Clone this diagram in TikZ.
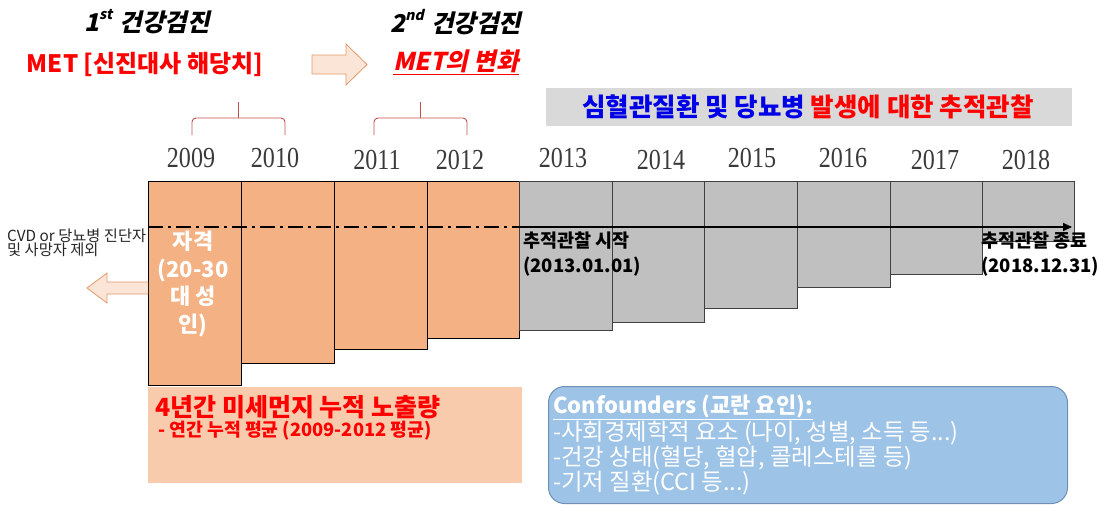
\documentclass[tikz,border=0pt]{standalone}
\usepackage{fontspec}
\setmainfont{Noto Sans CJK KR}
\newfontfamily\krsl{Noto Sans CJK KR}[FakeSlant=0.22, BoldFeatures={FakeSlant=0.22}]
\newfontfamily\yr{Liberation Serif}[FakeStretch=0.83]
\usetikzlibrary{arrows.meta}
\definecolor{boxor}{HTML}{F4B183}
\definecolor{boxgr}{HTML}{C0C0C0}
\definecolor{gline}{HTML}{404040}
\definecolor{peach}{HTML}{F9CBAD}
\definecolor{redt}{HTML}{FF0000}
\definecolor{bluet}{HTML}{0000E6}
\definecolor{bannergr}{HTML}{D9D9D9}
\definecolor{confb}{HTML}{9DC3E6}
\definecolor{confl}{HTML}{6F8FB5}
\definecolor{bracec}{HTML}{C0504D}
\definecolor{arrfill}{HTML}{FBE5D6}
\definecolor{arrline}{HTML}{E39A6A}
\definecolor{yeartext}{HTML}{3A3A3A}
\newcommand{\supr}[1]{\raisebox{0.5em}{\fontsize{14}{14}\selectfont #1}}
\tikzset{
  obox/.style={draw=black, line width=0.8pt, fill=boxor, anchor=north west, inner sep=0pt},
  gbox/.style={draw=gline, line width=0.8pt, fill=boxgr, anchor=north west, inner sep=0pt},
  yearlab/.style={font=\yr\fontsize{29}{29}\selectfont, text=yeartext, inner sep=0pt},
  ttl/.style={font=\krsl\fontsize{24.5}{26}\selectfont\bfseries, inner sep=0pt},
  redlab/.style={font=\fontsize{24}{26}\selectfont\bfseries, text=redt, inner sep=0pt},
  bracestyle/.style={draw=bracec, line width=0.9pt, rounded corners=4pt},
  fatarrow/.style={draw=arrline, fill=arrfill, line width=0.8pt, line join=miter},
  marklab/.style={font=\fontsize{18.5}{24.5}\selectfont\bfseries, text=black, inner sep=0pt, anchor=west, align=left},
}
\begin{document}
\begin{tikzpicture}[x=1pt,y=-1pt]
\useasboundingbox (0,0) rectangle (1101,504);
% titles
\node[ttl] (t1) at (147,22) {1\supr{st}\hspace{0.3em}건강검진};
\node[redlab] (met1) at (145,64) {MET [신진대사 해당치]};
\node[ttl] (t2) at (456,22) {2\supr{nd}\hspace{0.3em}건강검진};
\node[redlab, font=\krsl\fontsize{24.5}{26}\selectfont\bfseries] (met2) at (456,62) {\underline{MET의 변화}};
% top arrow
\draw[fatarrow] (312,55) -- (346,55) -- (346,44) -- (367,64.5) -- (346,85) -- (346,74) -- (312,74) -- cycle;
% braces
\draw[bracestyle] (192,135) -- (192,118) -- (285,118) -- (285,135);
\draw[draw=bracec, line width=0.9pt] (238.5,118) -- (238.5,102);
\draw[bracestyle] (374,135) -- (374,118) -- (467,118) -- (467,135);
\draw[draw=bracec, line width=0.9pt] (420.5,118) -- (420.5,102);
% banner
\node[fill=bannergr, anchor=north west, inner sep=0pt, minimum width=526pt, minimum height=38pt] (banner) at (546,88) {};
\node[font=\fontsize{25.5}{28}\selectfont\bfseries, inner sep=0pt] (bantext) at (808,107) {\textcolor{bluet}{심혈관질환 및 당뇨병} \textcolor{redt}{발생에 대한 추적관찰}};
% years
\node[yearlab] (y2009) at (191,158) {2009};
\node[yearlab] (y2010) at (275,158) {2010};
\node[yearlab] (y2011) at (377,160) {2011};
\node[yearlab] (y2012) at (460,160) {2012};
\node[yearlab] (y2013) at (563,158) {2013};
\node[yearlab] (y2014) at (661,160) {2014};
\node[yearlab] (y2015) at (752,158) {2015};
\node[yearlab] (y2016) at (843,158) {2016};
\node[yearlab] (y2017) at (935,160) {2017};
\node[yearlab] (y2018) at (1026,160) {2018};
% orange boxes
\node[obox, minimum width=93pt, minimum height=204pt] (b2009) at (148,181) {};
\node[obox, minimum width=93pt, minimum height=182pt] (b2010) at (241,181) {};
\node[obox, minimum width=93pt, minimum height=168pt] (b2011) at (334,181) {};
\node[obox, minimum width=92pt, minimum height=157pt] (b2012) at (427,181) {};
% gray boxes
\node[gbox, minimum width=92.5pt, minimum height=149pt] (b2013) at (519,181) {};
\node[gbox, minimum width=92.5pt, minimum height=141pt] (b2014) at (611.5,181) {};
\node[gbox, minimum width=93pt, minimum height=126.5pt] (b2015) at (704,181) {};
\node[gbox, minimum width=93pt, minimum height=106pt] (b2016) at (797,181) {};
\node[gbox, minimum width=92pt, minimum height=93pt] (b2017) at (890,181) {};
\node[gbox, minimum width=92pt, minimum height=60pt] (b2018) at (982,181) {};
% timeline
\coordinate (dstart) at (148,227);
\coordinate (fstart) at (519,227);
\coordinate (fend) at (1072,227);
\draw[line width=2pt, dash pattern=on 15pt off 5pt on 3pt off 5pt] (dstart) -- (fstart);
\draw[line width=2pt, -{Triangle[length=9pt,width=8pt]}] (fstart) -- (fend);
% labels on boxes
\node[font=\fontsize{22}{27.5}\selectfont\bfseries, text=white, align=center, inner sep=0pt] (elig) at (193,284) {자격\\(20-30\\대 성\\인)};
\node[marklab] (fustart) at (523,254) {추적관찰 시작\\(2013.01.01)};
\node[marklab] (fuend) at (981,254) {추적관찰 종료\\(2018.12.31)};
% exclusion
\node[font=\fontsize{15.3}{14}\selectfont, anchor=west, align=left, inner sep=0pt, text=black!85] (excl) at (7,243) {CVD or 당뇨병 진단자\\및 사망자 제외};
\draw[fatarrow] (148,282) -- (107,282) -- (107,273) -- (87,288) -- (107,303) -- (107,294) -- (148,294);
% bottom boxes
\node[fill=peach, anchor=north west, inner sep=0pt, minimum width=374pt, minimum height=96pt] (pm) at (148,387) {};
\node[font=\fontsize{25}{26}\selectfont\bfseries, text=redt, anchor=west, inner sep=0pt] (pmt1) at (155,407) {4년간 미세먼지 누적 노출량};
\node[font=\fontsize{18.3}{20}\selectfont\bfseries, text=redt, anchor=west, inner sep=0pt] (pmt2) at (158,431) {- 연간 누적 평균 (2009-2012 평균)};
\node[fill=confb, draw=confl, line width=1pt, rounded corners=16pt, anchor=north west, inner sep=0pt, minimum width=519pt, minimum height=117pt] (conf) at (548,386) {};
\node[font=\fontsize{23.4}{24.7}\selectfont, text=white, anchor=north west, align=left, inner sep=0pt] (conft) at (553,395) {{\fontsize{22}{24.7}\selectfont\bfseries\underline{Confounders (교란 요인):}}\\-사회경제학적 요소 (나이, 성별, 소득 등...)\\-건강 상태(혈당, 혈압, 콜레스테롤 등)\\-기저 질환(CCI 등...)};
\end{tikzpicture}
\end{document}
